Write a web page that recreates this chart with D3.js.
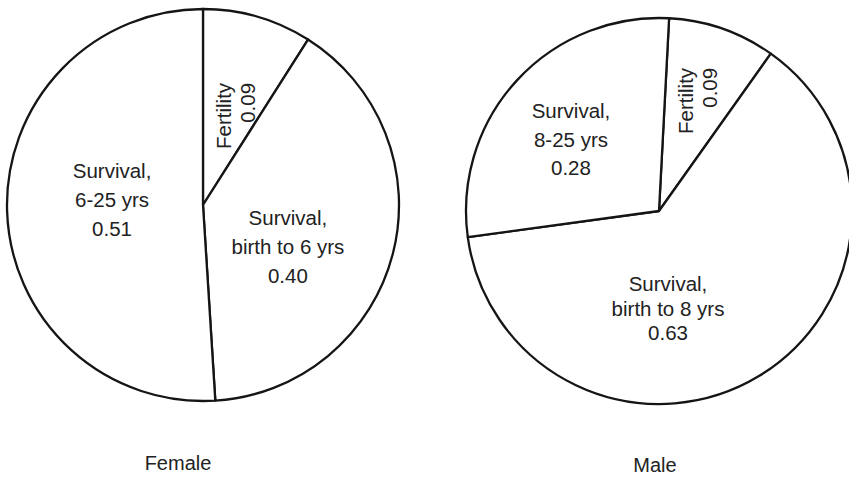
<!DOCTYPE html>
<html>
<head>
<meta charset="utf-8">
<script src="https://cdn.jsdelivr.net/npm/d3@7/dist/d3.min.js"></script>
<style>
  body { margin: 0; background: #fff; }
  svg { display: block; }
  text { font-family: "Liberation Sans", Arial, Helvetica, sans-serif; fill: #222; }
</style>
</head>
<body>
<div class="graphic"></div>
<script>
// data
var femaleCategories = ["Fertility", "Survival, birth to 6 yrs", "Survival, 6-25 yrs"];
var femaleValues = [0.09, 0.40, 0.51];
var maleCategories = ["Fertility", "Survival, birth to 8 yrs", "Survival, 8-25 yrs"];
var maleValues = [0.09, 0.63, 0.28];
var panelTitles = ["Female", "Male"];

var width = 849, height = 477;

// layout for each pie (position, label nudges from the slice centroid)
var panels = [
  {
    title: panelTitles[0], categories: femaleCategories, values: femaleValues,
    cx: 203, cy: 205, r: 196, start: 0,
    titleX: 178, titleY: 470,
    labels: [
      { rotate: true, dx: 6, dy: -28, lh: 24 },
      { dx: -10, dy: 25, lh: 29 },
      { dx: 7, dy: -1, lh: 29 }
    ]
  },
  {
    title: panelTitles[1], categories: maleCategories, values: maleValues,
    cx: 659, cy: 211, r: 193, start: 3 * Math.PI / 180,
    titleX: 655, titleY: 472,
    labels: [
      { rotate: true, dx: 7, dy: -52, lh: 24 },
      { dx: -41, dy: 22, lh: 24.5 },
      { dx: -17, dy: 1, lh: 28.5 }
    ]
  }
];

var fmt = d3.format(".2f");

var svg = d3.select(".graphic").append("svg")
  .attr("width", width)
  .attr("height", height);

panels.forEach(function(p) {
  var pie = d3.pie()
    .sort(null)
    .startAngle(p.start)
    .endAngle(p.start + 2 * Math.PI);

  var arc = d3.arc().innerRadius(0).outerRadius(p.r);

  var g = svg.append("g").attr("transform", "translate(" + p.cx + "," + p.cy + ")");

  var slices = pie(p.values);

  g.selectAll("path")
    .data(slices)
    .enter()
    .append("path")
    .attr("d", arc)
    .attr("fill", "#fff")
    .attr("stroke", "#151515")
    .attr("stroke-width", 2.3)
    .attr("stroke-linejoin", "round");

  slices.forEach(function(s, i) {
    var c = arc.centroid(s);
    var L = p.labels[i];
    var parts = p.categories[i].split(", ");
    var lines = parts.length > 1 ? [parts[0] + ",", parts[1]] : [parts[0]];
    lines.push(fmt(p.values[i]));

    var lg = g.append("g")
      .attr("transform", "translate(" + (c[0] + L.dx) + "," + (c[1] + L.dy) + ")" + (L.rotate ? " rotate(-90)" : ""));

    lg.selectAll("text")
      .data(lines)
      .enter()
      .append("text")
      .attr("x", 0)
      .attr("y", function(d, j) { return (j - (lines.length - 1) / 2) * L.lh + (L.rotate ? 7 : 0); })
      .attr("text-anchor", L.rotate ? "end" : "middle")
      .attr("font-size", 20.5)
      .text(function(d) { return d; });
  });

  svg.append("text")
    .attr("x", p.titleX)
    .attr("y", p.titleY)
    .attr("text-anchor", "middle")
    .attr("font-size", 20)
    .text(p.title);
});
</script>
</body>
</html>
